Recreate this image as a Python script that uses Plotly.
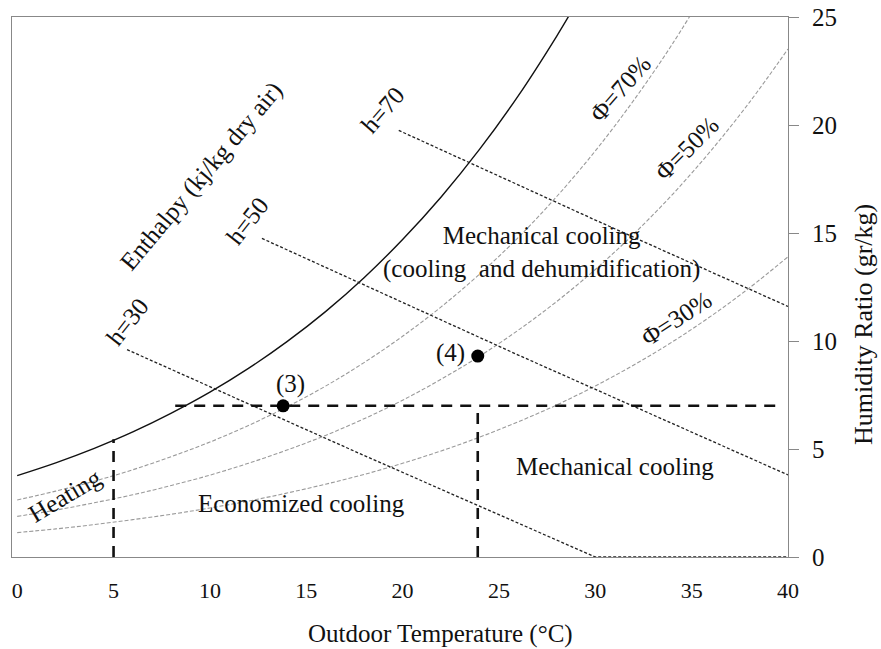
import plotly.graph_objects as go

# ---- data ----
T_sat = [0, 2, 4, 6, 8, 10, 12, 14, 16, 18, 20, 22, 24, 26, 28, 29]
W_sat = [3.77, 4.36, 5.03, 5.79, 6.66, 7.63, 8.73, 9.97, 11.36, 12.93, 14.70, 16.67, 18.88, 21.35, 24.12, 25.62]

T_70 = [0, 2, 4, 6, 8, 10, 12, 14, 16, 18, 20, 22, 24, 26, 28, 30, 32, 34, 36]
W_70 = [2.64, 3.05, 3.51, 4.04, 4.65, 5.32, 6.09, 6.95, 7.91, 9.00, 10.22, 11.58, 13.10, 14.79, 16.69, 18.80, 21.15, 23.75, 26.65]

T_rh = [0, 2, 4, 6, 8, 10, 12, 14, 16, 18, 20, 22, 24, 26, 28, 30, 32, 34, 36, 38, 40]
W_50 = [1.88, 2.17, 2.51, 2.88, 3.31, 3.79, 4.34, 4.95, 5.63, 6.40, 7.26, 8.23, 9.30, 10.50, 11.83, 13.31, 14.96, 16.78, 18.81, 21.05, 23.52]
W_30 = [1.13, 1.30, 1.50, 1.73, 1.98, 2.27, 2.59, 2.96, 3.37, 3.82, 4.34, 4.91, 5.55, 6.26, 7.04, 7.92, 8.89, 9.96, 11.15, 12.46, 13.90]

h30_T = [5.7, 18, 30, 40]
h30_W = [9.6, 4.7, 0.0, 0.0]
h50_T = [12.7, 26, 40]
h50_W = [14.75, 9.35, 3.8]
h70_T = [19.8, 30, 40]
h70_W = [19.75, 15.6, 11.6]

zone_h_T = [8.2, 39.6]
zone_h_W = [7.0, 7.0]
zone_v1_T = [5, 5]
zone_v1_W = [0, 5.45]
zone_v2_T = [23.9, 23.9]
zone_v2_W = [0, 7.0]

pts_T = [13.8, 23.9]
pts_W = [7.0, 9.3]
pts_lbl = ["(3)", "(4)"]

x_ticks = [0, 5, 10, 15, 20, 25, 30, 35, 40]
y_ticks = [0, 5, 10, 15, 20, 25]

FONT = "Liberation Serif"
fig = go.Figure()

gray_dash = dict(color="#9a9a9a", width=1.1, dash="4px,2px")
for T, W in [(T_70, W_70), (T_rh, W_50), (T_rh, W_30)]:
    fig.add_trace(go.Scatter(x=T, y=W, mode="lines", line=dict(shape="spline", **gray_dash),
                             hoverinfo="skip", showlegend=False))

fig.add_trace(go.Scatter(x=T_sat, y=W_sat, mode="lines",
                         line=dict(color="#111", width=1.4, shape="spline"), showlegend=False))

for T, W in [(h30_T, h30_W), (h50_T, h50_W), (h70_T, h70_W)]:
    fig.add_trace(go.Scatter(x=T, y=W, mode="lines",
                             line=dict(color="#222", width=1.3, dash="3px,2px"), showlegend=False))

for T, W in [(zone_h_T, zone_h_W), (zone_v1_T, zone_v1_W), (zone_v2_T, zone_v2_W)]:
    fig.add_trace(go.Scatter(x=T, y=W, mode="lines",
                             line=dict(color="#111", width=2.6, dash="11px,8px"), showlegend=False))

fig.add_trace(go.Scatter(x=pts_T, y=pts_W, mode="markers",
                         marker=dict(color="black", size=13), showlegend=False))

ann = [
    ("Enthalpy (kj/kg dry air)", 9.57, 17.64, -50),
    ("h=30", 5.74, 10.88, -52),
    ("h=50", 11.95, 15.6, -52),
    ("h=70", 19.0, 20.7, -49),
    ("Φ=70%", 31.3, 21.7, -49),
    ("Φ=50%", 34.75, 18.9, -45),
    ("Φ=30%", 34.2, 11.06, -33),
    ("Heating", 2.48, 2.87, -31),
    ("Economized cooling", 14.75, 2.5, 0),
    ("Mechanical cooling", 31.0, 4.17, 0),
    ("Mechanical cooling<br>(cooling  and dehumidification)", 27.2, 14.1, 0),
    (pts_lbl[0], 14.2, 8.0, 0),
    (pts_lbl[1], 22.5, 9.45, 0),
]
for text, x, y, ang in ann:
    fig.add_annotation(x=x, y=y, xref="x", yref="y", text=text, showarrow=False,
                       textangle=ang, font=dict(family=FONT, size=25, color="#111"))

FW, FH = 881, 649
ML, MT, MR, MB = 12, 17, 93, 92
W_PLOT = FW - ML - MR
H_PLOT = FH - MT - MB
X0, Y1 = ML, FH - MB  # plot-area left / bottom in pixels

fig.add_annotation(x=(440 - X0) / W_PLOT, y=(Y1 - 634) / H_PLOT, xref="paper", yref="paper",
                   text="Outdoor Temperature (°C)", showarrow=False,
                   xanchor="center", yanchor="middle",
                   font=dict(family=FONT, size=25, color="#111"))
fig.add_annotation(x=(863 - X0) / W_PLOT, y=(Y1 - 325) / H_PLOT, xref="paper", yref="paper",
                   text="Humidity Ratio (gr/kg)", textangle=-90, showarrow=False,
                   xanchor="center", yanchor="middle",
                   font=dict(family=FONT, size=26, color="#111"))

fig.update_layout(
    width=FW, height=FH,
    margin=dict(l=ML, r=MR, t=MT, b=MB, autoexpand=False),
    plot_bgcolor="white", paper_bgcolor="white",
    font=dict(family=FONT, color="#111"),
    xaxis=dict(range=[-0.27, 40], tickvals=x_ticks, showgrid=False, zeroline=False,
               showline=True, mirror=True, linecolor="#888", linewidth=1, automargin=False,
               ticks="", tickfont=dict(family=FONT, size=22, color="#111"),
               ticklabelstandoff=14, ticklabeloverflow="allow"),
    yaxis=dict(range=[0, 25], tickvals=y_ticks, side="right", showgrid=False, zeroline=False,
               showline=True, mirror=True, linecolor="#888", linewidth=1, automargin=False,
               ticks="outside", ticklen=10, tickcolor="#888",
               tickfont=dict(family=FONT, size=25, color="#111"), ticklabelstandoff=8,
               ticklabeloverflow="allow"),
)

fig.write_html("out.html", config={"displayModeBar": False},
               post_script="document.body.style.margin='0';")
